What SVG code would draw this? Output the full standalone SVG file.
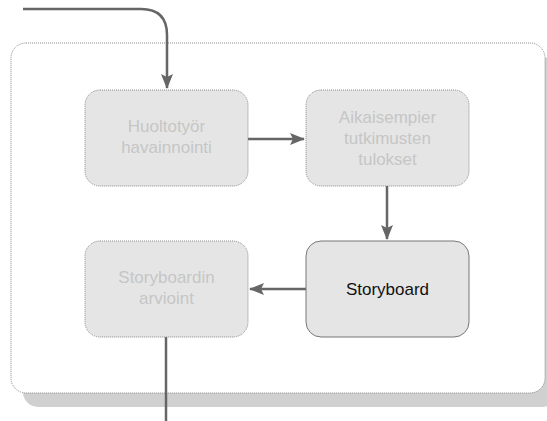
<svg xmlns="http://www.w3.org/2000/svg" width="547" height="421" viewBox="0 0 547 421">
  <style>
    .node rect { fill: #e5e5e5; stroke: #8a8a8a; stroke-width: 1; stroke-dasharray: 1 1; }
    .node.active rect { stroke: #777; stroke-dasharray: none; }
    .node text { font-family: "Liberation Sans", Arial, sans-serif; font-size: 17px; fill: #c6c6c6; text-anchor: middle; }
    .node.active text { fill: #111; }
    .edge { fill: none; stroke: #666; stroke-width: 2.5; }
  </style>
  <defs>
    <marker id="arrow" viewBox="0 0 15 12" refX="14" refY="6" markerWidth="15" markerHeight="12" markerUnits="userSpaceOnUse" orient="auto">
      <path d="M0,0 L15,6 L0,12 L3,6 z" fill="#666"/>
    </marker>
  </defs>

  <!-- container with drop shadow -->
  <g id="container">
    <rect x="23" y="57" width="534" height="350" rx="15" fill="#d0d0d0"/>
    <rect x="11" y="43" width="534" height="350" rx="15" fill="#fff" stroke="#8a8a8a" stroke-width="1" stroke-dasharray="1 1"/>
  </g>

  <g id="connectors">
    <path class="edge" d="M23,9 H141 Q167,9 167,35 V88" marker-end="url(#arrow)"/>
    <path class="edge" d="M248,139 H304" marker-end="url(#arrow)"/>
    <path class="edge" d="M387,186 V239" marker-end="url(#arrow)"/>
    <path class="edge" d="M306,289 H250" marker-end="url(#arrow)"/>
    <path class="edge" d="M166,337 V421" stroke="#555" stroke-width="2"/>
  </g>

  <g id="huoltotyor" class="node">
    <rect x="85" y="90" width="163" height="96" rx="15"/>
    <text x="166.5" y="132">Huoltotyör</text>
    <text x="166.5" y="153">havainnointi</text>
  </g>

  <g id="aikaisempier" class="node">
    <rect x="306" y="90" width="163" height="96" rx="15"/>
    <text x="387.5" y="123">Aikaisempier</text>
    <text x="387.5" y="144">tutkimusten</text>
    <text x="387.5" y="165">tulokset</text>
  </g>

  <g id="storyboard" class="node active">
    <rect x="306" y="241" width="163" height="96" rx="15"/>
    <text x="387.5" y="295">Storyboard</text>
  </g>

  <g id="arviointi" class="node">
    <rect x="85" y="241" width="163" height="96" rx="15"/>
    <text x="166.5" y="283">Storyboardin</text>
    <text x="166.5" y="304">arvioint</text>
  </g>
</svg>
